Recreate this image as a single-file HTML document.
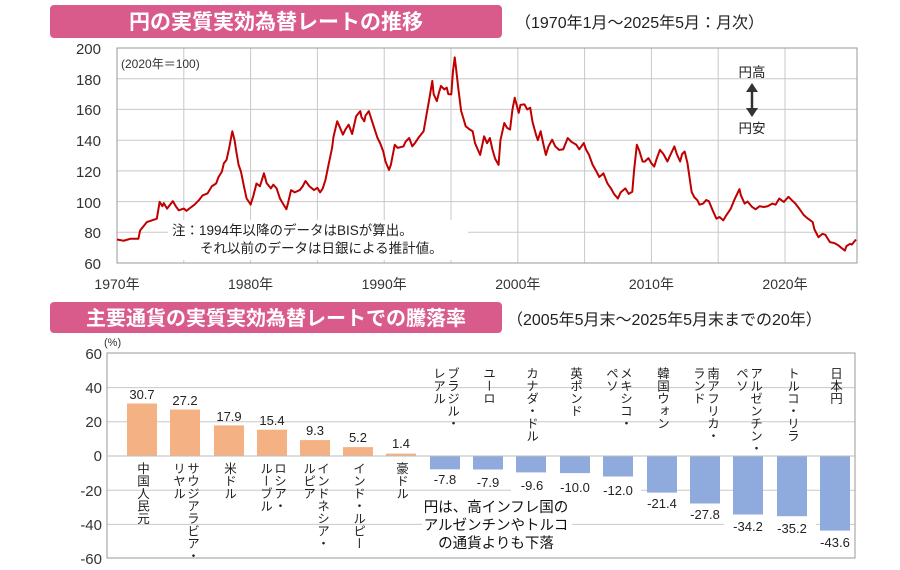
<!DOCTYPE html>
<html><head><meta charset="utf-8"><style>
body{margin:0;width:900px;height:570px;background:#fff;overflow:hidden;font-family:"Liberation Sans","Noto Sans CJK JP",sans-serif;}
svg text{font-family:"Liberation Sans","Noto Sans CJK JP",sans-serif;}
.v{position:absolute;writing-mode:vertical-rl;font-size:12.5px;color:#222;line-height:14px;white-space:nowrap;}
</style></head><body>
<svg width="900" height="570" style="position:absolute;left:0;top:0">
<rect x="50" y="5" width="452" height="33" rx="4" fill="#d95b8c"/>
<text x="276" y="29" font-size="21" font-weight="bold" fill="#fff" text-anchor="middle">円の実質実効為替レートの推移</text>
<text x="515" y="28" font-size="16" fill="#222">（1970年1月～2025年5月：月次）</text>
<g stroke="#c8c8c8" stroke-width="1">
<line x1="117" y1="78.7" x2="857" y2="78.7"/><line x1="117" y1="109.4" x2="857" y2="109.4"/><line x1="117" y1="140.2" x2="857" y2="140.2"/><line x1="117" y1="170.9" x2="857" y2="170.9"/><line x1="117" y1="201.6" x2="857" y2="201.6"/><line x1="117" y1="232.3" x2="857" y2="232.3"/>
<line x1="183.8" y1="48" x2="183.8" y2="263"/><line x1="250.6" y1="48" x2="250.6" y2="263"/><line x1="317.4" y1="48" x2="317.4" y2="263"/><line x1="384.2" y1="48" x2="384.2" y2="263"/><line x1="451" y1="48" x2="451" y2="263"/><line x1="517.8" y1="48" x2="517.8" y2="263"/><line x1="584.6" y1="48" x2="584.6" y2="263"/><line x1="651.4" y1="48" x2="651.4" y2="263"/><line x1="718.2" y1="48" x2="718.2" y2="263"/><line x1="785" y1="48" x2="785" y2="263"/>
</g>
<rect x="117" y="48" width="740" height="215" fill="none" stroke="#999"/>
<g font-size="15" fill="#333" text-anchor="end">
<text x="101" y="54">200</text><text x="101" y="85">180</text><text x="101" y="115">160</text><text x="101" y="146">140</text><text x="101" y="177">120</text><text x="101" y="208">100</text><text x="101" y="238">80</text><text x="101" y="269">60</text>
</g>
<g font-size="14" fill="#333" text-anchor="middle">
<text x="117" y="289">1970年</text><text x="250.6" y="289">1980年</text><text x="384.2" y="289">1990年</text><text x="517.8" y="289">2000年</text><text x="651.4" y="289">2010年</text><text x="785" y="289">2020年</text>
</g>
<text x="121" y="68" font-size="12" fill="#333">(2020年＝100)</text>
<rect x="168" y="220" width="300" height="40" fill="#fff"/>
<text x="172" y="235" font-size="13.5" fill="#222">注：1994年以降のデータはBISが算出。</text>
<text x="200" y="253" font-size="13.5" fill="#222">それ以前のデータは日銀による推計値。</text>
<text x="752" y="77" font-size="13.5" fill="#222" text-anchor="middle">円高</text>
<text x="752" y="133" font-size="13.5" fill="#222" text-anchor="middle">円安</text>
<line x1="752" y1="88" x2="752" y2="112" stroke="#333" stroke-width="2.5"/>
<path d="M746,92 L752,83 L758,92Z M746,108 L752,117 L758,108Z" fill="#333"/>
<g transform="translate(117,355.2) scale(1.336,-1.536)">
<polyline fill="none" stroke="#c00000" stroke-width="2" vector-effect="non-scaling-stroke" stroke-linejoin="round" points="0,75.3 5,74.5 10,75.8 16,75.8 17.3,81.2 22.4,86.7 29.8,88.9 31.9,99.8 34,97 35,99 37.5,95.4 41.8,100.3 44,97 46.2,94.3 50,95.5 52,94 54.8,95.9 58,98 61.3,100.9 64,104 67.7,105.3 71,110 74.2,111.8 76,116 78.5,119.5 80,125 82,127.2 84,135 86.3,145.8 88,140 89.3,132.6 91,124 92.8,119.5 95,110 97,102 98.8,99.8 100,98 102.2,104.2 104.4,111.8 107,110 110,118.4 112,112 115.2,108.6 117,111 119.5,108.6 122,102 124,99 126.8,95 128,99 130.3,107.5 133,106 136.8,107.5 139,110 141.1,113.4 144,110 147.5,107.5 150,109 152,106 154,108.6 156,114 158.3,123.9 161,135 162,142 164.8,152.3 166,150 169.1,143.6 171,147 173.4,150.1 176,144 179,155.6 182.1,158.9 183,155 185.1,152.3 186,156 188.5,158.9 191,152 195,141.4 197,138 199.3,132.6 201,126 203.6,120.6 205,124 207.9,137 210,135 214.4,135.9 216,139 218.7,141.4 221,136 223,138.1 226,142 229.5,145.8 231.7,156.7 234,168 236,178.6 237,170 239.4,165.4 241,171 242.5,175.3 245,173 246.8,174.2 248,170 250.2,169.8 251.5,185 252.8,193.9 254,185 255.4,174.2 257.6,158.9 259,155 261,149 264,147 266.2,145.8 268,138 270,134 271.8,130.4 274.8,142.5 277,138 279.1,141.4 281,134 283,128 285.6,123.9 287,140 289.9,151.2 292,148 294.2,146.9 296,160 297.7,167.6 300.7,157.8 302,163 305,163.3 307,160 309.3,161.1 311,152 313.6,143.6 315,140 317.1,145.8 319,138 321,130.4 323,136 325.7,140.3 328,136 330.9,133.7 334,134 337.4,141.4 340,139 343.8,137 346,134 349.4,138.1 351,134 353.3,130.4 356,124 358.9,119.5 361,116 364.1,118.4 367,112 369.7,108.6 372,105 374.9,102 377,106 380.5,108.6 383,105 385.7,106.4 387,120 389.1,137 391,133 393.4,126.1 395,126 397.8,128.3 400,125 402.1,122.8 404,128 406.4,133.7 409,131 412,126.1 414,130 417.2,135.9 419,131 421.5,126.1 423,131 424.9,132.6 427,125 430.1,106.4 432,103 434.4,100.9 436,98 438.7,98.7 441,101 443,100.3 446,94 448.7,88.9 451,90 453.8,87.8 456,91 459.4,95.4 462,101 465.9,108.1 467,104 469.8,98.7 472,100 475.4,96.5 478,95 481,97 484,96.5 487,97 490.5,98.7 493,98 495.7,102 499.1,99.8 502.6,103.1 505,101 507.8,98.7 511,95 514.2,91.1 517,89 520.7,86.7 522,82 525,76.8 528,79 530.2,78.4 533.6,73.6 537,73 540.1,71.4 542,70 544.8,68.1 546,71 548.7,72.5 550,72 553.1,75.3"/>
</g>
<rect x="50" y="302" width="452" height="31" rx="4" fill="#d95b8c"/>
<text x="276" y="325" font-size="20" font-weight="bold" fill="#fff" text-anchor="middle">主要通貨の実質実効為替レートでの騰落率</text>
<text x="507" y="325" font-size="16" fill="#222">（2005年5月末～2025年5月末までの20年）</text>
<g stroke="#c8c8c8">
<line x1="107" y1="387.6" x2="855" y2="387.6"/><line x1="107" y1="421.8" x2="855" y2="421.8"/><line x1="107" y1="490.2" x2="855" y2="490.2"/><line x1="107" y1="524.4" x2="855" y2="524.4"/>
</g>
<rect x="107" y="353" width="748" height="205" fill="none" stroke="#999"/>
<g font-size="15" fill="#333" text-anchor="end">
<text x="102" y="359">60</text><text x="102" y="393">40</text><text x="102" y="427">20</text><text x="102" y="461">0</text><text x="102" y="496">-20</text><text x="102" y="530">-40</text><text x="102" y="564">-60</text>
</g>
<text x="104" y="346" font-size="11" fill="#333">(%)</text>
<g fill="#f4b183">
<rect x="127" y="403.5" width="30" height="52.5"/><rect x="170" y="409.5" width="30" height="46.5"/><rect x="214" y="425.4" width="30" height="30.6"/><rect x="257" y="429.7" width="30" height="26.3"/><rect x="300" y="440.1" width="30" height="15.9"/><rect x="343" y="447.1" width="30" height="8.9"/><rect x="386" y="453.6" width="30" height="2.4"/>
</g>
<g fill="#8faadc">
<rect x="430" y="456" width="30" height="13.3"/><rect x="473" y="456" width="30" height="13.5"/><rect x="516" y="456" width="30" height="16.4"/><rect x="560" y="456" width="30" height="17.1"/><rect x="603" y="456" width="30" height="20.5"/><rect x="647" y="456" width="30" height="36.6"/><rect x="690" y="456" width="30" height="47.5"/><rect x="733" y="456" width="30" height="58.5"/><rect x="777" y="456" width="30" height="60.2"/><rect x="820" y="456" width="30" height="74.6"/>
</g>
<line x1="107" y1="456" x2="855" y2="456" stroke="#bbb"/>
<g font-size="13" fill="#222" text-anchor="middle">
<text x="142" y="399">30.7</text><text x="185" y="405">27.2</text><text x="229" y="421">17.9</text><text x="272" y="425">15.4</text><text x="315" y="435">9.3</text><text x="358" y="442">5.2</text><text x="401" y="448">1.4</text>
</g>
<g font-size="13" fill="#222" text-anchor="middle">
<rect x="425" y="470" width="40" height="16" fill="#fff"/><text x="445" y="484">-7.8</text>
<rect x="468" y="473" width="40" height="16" fill="#fff"/><text x="488" y="487">-7.9</text>
<rect x="511" y="476" width="42" height="16" fill="#fff"/><text x="532" y="490">-9.6</text>
<rect x="552" y="478" width="46" height="16" fill="#fff"/><text x="575" y="492">-10.0</text>
<rect x="595" y="481" width="46" height="16" fill="#fff"/><text x="618" y="495">-12.0</text>
<text x="662" y="508">-21.4</text><text x="705" y="519">-27.8</text>
<rect x="724" y="518" width="48" height="16" fill="#fff"/><text x="748" y="531">-34.2</text>
<rect x="768" y="519" width="48" height="16" fill="#fff"/><text x="792" y="533">-35.2</text>
<text x="835" y="547">-43.6</text>
</g>
<rect x="422" y="497" width="150" height="58" fill="#fff"/>
<g font-size="14.5" fill="#111" text-anchor="middle">
<text x="496" y="512">円は、高インフレ国の</text><text x="496" y="530">アルゼンチンやトルコ</text><text x="496" y="548">の通貨よりも下落</text>
</g>
</svg>
<div class="v" style="left:135px;top:462px">中国人民元</div>
<div class="v" style="left:171px;top:462px">サウジアラビア・<br>リヤル</div>
<div class="v" style="left:222px;top:462px">米ドル</div>
<div class="v" style="left:258px;top:462px">ロシア・<br>ルーブル</div>
<div class="v" style="left:301px;top:462px">インドネシア・<br>ルピア</div>
<div class="v" style="left:351px;top:462px">インド・ルピー</div>
<div class="v" style="left:394px;top:462px">豪ドル</div>
<div class="v" style="left:431px;top:367px">ブラジル・<br>レアル</div>
<div class="v" style="left:481px;top:367px">ユーロ</div>
<div class="v" style="left:524px;top:367px">カナダ・ドル</div>
<div class="v" style="left:568px;top:367px">英ポンド</div>
<div class="v" style="left:604px;top:367px">メキシコ・<br>ペソ</div>
<div class="v" style="left:655px;top:367px">韓国ウォン</div>
<div class="v" style="left:691px;top:367px">南アフリカ・<br>ランド</div>
<div class="v" style="left:734px;top:367px">アルゼンチン・<br>ペソ</div>
<div class="v" style="left:785px;top:367px">トルコ・リラ</div>
<div class="v" style="left:828px;top:367px">日本円</div>
</body></html>
